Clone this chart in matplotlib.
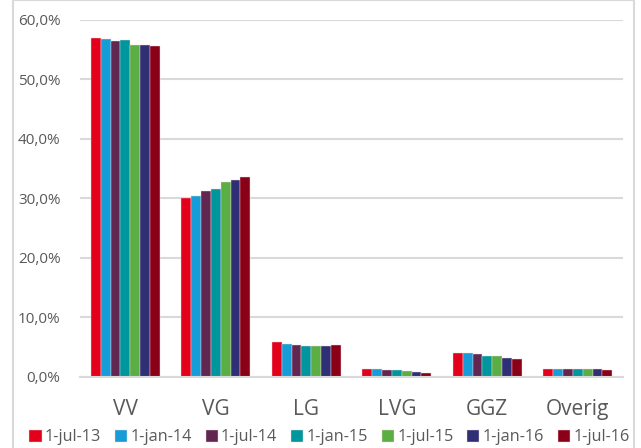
import matplotlib.pyplot as plt
import numpy as np
from matplotlib.patches import Rectangle
from matplotlib.ticker import FuncFormatter

# categories and series (percentages)
categories = ['VV', 'VG', 'LG', 'LVG', 'GGZ', 'Overig']
series = ['1-jul-13', '1-jan-14', '1-jul-14', '1-jan-15', '1-jul-15', '1-jan-16', '1-jul-16']
jul13 = [57.0, 30.1, 5.8, 1.35, 4.0, 1.3]
jan14 = [56.8, 30.5, 5.6, 1.3, 4.0, 1.3]
jul14 = [56.4, 31.2, 5.45, 1.2, 3.9, 1.3]
jan15 = [56.6, 31.6, 5.25, 1.1, 3.55, 1.3]
jul15 = [55.8, 32.8, 5.25, 0.95, 3.45, 1.3]
jan16 = [55.8, 33.1, 5.25, 0.85, 3.2, 1.3]
jul16 = [55.7, 33.6, 5.35, 0.7, 3.05, 1.2]
values = [jul13, jan14, jul14, jan15, jul15, jan16, jul16]
colors = ['#e3001b', '#169dd8', '#622751', '#00969e', '#5aae43', '#2e2f75', '#8a0017']

font = 'Open Sans'
plt.rcParams['font.family'] = [font, 'DejaVu Sans']

fig = plt.figure(figsize=(6.41, 4.48), dpi=100)
ax = fig.add_axes([0.1248, 0.1585, 0.972 - 0.1248, 0.9554 - 0.1585])

x = np.arange(len(categories))
w = 0.76 / len(series)
for i, (name, vals) in enumerate(zip(series, values)):
    ax.bar(x - 0.38 + w * (i + 0.5), vals, width=w, color=colors[i], label=name,
           edgecolor='#f2d6dc', linewidth=0.3, zorder=3)

ax.set_xlim(-0.5, len(categories) - 0.5)
ax.set_ylim(0, 60)
ax.set_yticks(np.arange(0, 61, 10))
ax.yaxis.set_major_formatter(FuncFormatter(lambda v, p: f'{v:.1f}%'.replace('.', ',')))
ax.grid(axis='y', color='#d9d9d9', linewidth=1.5, zorder=0)
ax.set_xticks(x)
ax.set_xticklabels(categories, fontsize=15, color='#595959')
ax.tick_params(axis='x', length=0, pad=16)
ax.tick_params(axis='y', length=0, pad=14, labelsize=11, labelcolor='#595959')
for s in ['top', 'right', 'left']:
    ax.spines[s].set_visible(False)
ax.spines['bottom'].set_color('#d9d9d9')
ax.spines['bottom'].set_linewidth(1.5)
ax.spines['bottom'].set_zorder(4)

# outer chart frame
fig.patches.append(Rectangle((13 / 641, -0.05), (634 - 13) / 641, 1.05, transform=fig.transFigure,
                             fill=False, edgecolor='#d9d9d9', linewidth=1.5))

fig.legend(loc='center', bbox_to_anchor=(0.514, 0.024), ncol=7, frameon=False,
           fontsize=11.7, handlelength=0.75, handleheight=0.75, handletextpad=0.2,
           columnspacing=0.85, labelcolor='#595959')

fig.savefig('out.png', dpi=100)
